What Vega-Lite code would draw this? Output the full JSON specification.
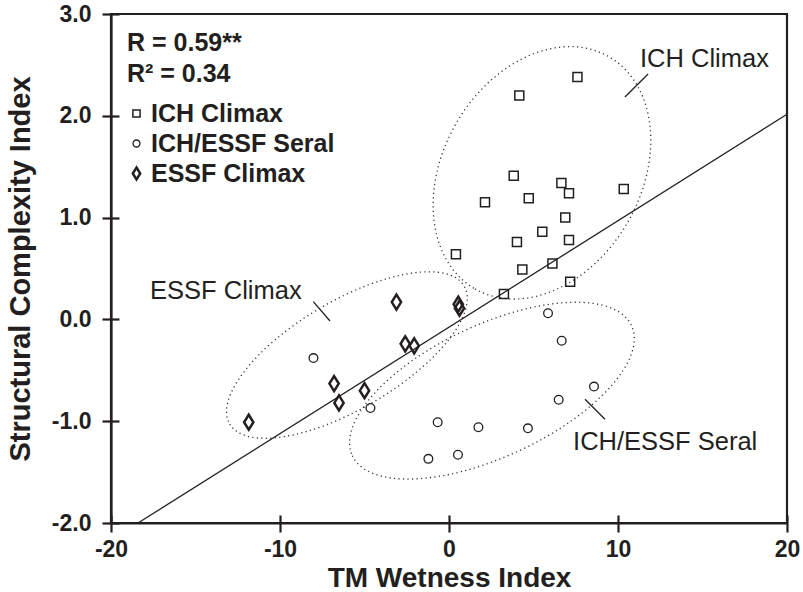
{
  "$schema": "https://vega.github.io/schema/vega-lite/v6.json",
  "width": 676,
  "height": 509,
  "autosize": "none",
  "padding": {"left": 111, "top": 14, "right": 16, "bottom": 69},
  "config": {
    "font": "Liberation Sans",
    "view": {"stroke": "#231f20", "strokeWidth": 2.2}
  },
  "datasets": {
    "points": [
      {"group": "ICH Climax", "twi": 7.6, "sci": 2.38},
      {"group": "ICH Climax", "twi": 4.16, "sci": 2.2},
      {"group": "ICH Climax", "twi": 3.83, "sci": 1.41},
      {"group": "ICH Climax", "twi": 6.65, "sci": 1.34},
      {"group": "ICH Climax", "twi": 7.1, "sci": 1.24},
      {"group": "ICH Climax", "twi": 4.72, "sci": 1.19},
      {"group": "ICH Climax", "twi": 2.13, "sci": 1.15},
      {"group": "ICH Climax", "twi": 10.34, "sci": 1.28},
      {"group": "ICH Climax", "twi": 6.88, "sci": 1.0},
      {"group": "ICH Climax", "twi": 5.52, "sci": 0.86},
      {"group": "ICH Climax", "twi": 7.1, "sci": 0.78},
      {"group": "ICH Climax", "twi": 4.02, "sci": 0.76},
      {"group": "ICH Climax", "twi": 0.41, "sci": 0.64},
      {"group": "ICH Climax", "twi": 4.34, "sci": 0.49},
      {"group": "ICH Climax", "twi": 6.12, "sci": 0.55},
      {"group": "ICH Climax", "twi": 7.17, "sci": 0.37},
      {"group": "ICH Climax", "twi": 3.25, "sci": 0.25},
      {"group": "ICH/ESSF Seral", "twi": 5.86, "sci": 0.06},
      {"group": "ICH/ESSF Seral", "twi": 6.67, "sci": -0.21},
      {"group": "ICH/ESSF Seral", "twi": 8.58, "sci": -0.66},
      {"group": "ICH/ESSF Seral", "twi": 6.49, "sci": -0.79},
      {"group": "ICH/ESSF Seral", "twi": -4.65, "sci": -0.87},
      {"group": "ICH/ESSF Seral", "twi": -0.67, "sci": -1.01},
      {"group": "ICH/ESSF Seral", "twi": 1.74, "sci": -1.06},
      {"group": "ICH/ESSF Seral", "twi": 4.67, "sci": -1.07},
      {"group": "ICH/ESSF Seral", "twi": -1.22, "sci": -1.37},
      {"group": "ICH/ESSF Seral", "twi": 0.53, "sci": -1.33},
      {"group": "ICH/ESSF Seral", "twi": -8.02, "sci": -0.38},
      {"group": "ESSF Climax", "twi": -3.11, "sci": 0.17},
      {"group": "ESSF Climax", "twi": 0.55, "sci": 0.15},
      {"group": "ESSF Climax", "twi": 0.62, "sci": 0.11},
      {"group": "ESSF Climax", "twi": -2.59, "sci": -0.24},
      {"group": "ESSF Climax", "twi": -2.06, "sci": -0.26},
      {"group": "ESSF Climax", "twi": -6.8, "sci": -0.63},
      {"group": "ESSF Climax", "twi": -5.0, "sci": -0.7},
      {"group": "ESSF Climax", "twi": -6.51, "sci": -0.82},
      {"group": "ESSF Climax", "twi": -11.85, "sci": -1.01}
    ],
    "ellipses": [
      {"group": "ICH Climax", "cx": 5.5, "cy": 1.44},
      {"group": "ESSF Climax", "cx": -6.04, "cy": -0.35},
      {"group": "ICH/ESSF Seral", "cx": 2.54, "cy": -0.7}
    ],
    "fit": [
      {"twi": -18.4, "sci": -2.0},
      {"twi": 20, "sci": 2.015}
    ],
    "labels": [
      {"label": "ICH Climax", "x": 11.3, "y": 2.48},
      {"label": "ESSF Climax", "x": -17.69, "y": 0.2},
      {"label": "ICH/ESSF Seral", "x": 7.34, "y": -1.283}
    ],
    "leaders": [
      {"x": 10.41, "y": 2.185, "x2": 11.78, "y2": 2.41},
      {"x": -8.03, "y": 0.174, "x2": -7.04, "y2": -0.016},
      {"x": 8.05, "y": -0.785, "x2": 9.23, "y2": -0.981}
    ]
  },
  "layer": [
    {
      "data": {"name": "ellipses"},
      "transform": [{"filter": "datum.group === 'ICH Climax'"}],
      "mark": {"type": "point", "shape": "M-134,0A134,99 0 1,0 134,0A134,99 0 1,0 -134,0Z", "size": 4, "angle": -60, "filled": false, "stroke": "#333333", "strokeWidth": 1.3, "strokeDash": [1.2, 3.3], "opacity": 1},
      "encoding": {
        "x": {"field": "cx", "type": "quantitative", "scale": {"domain": [-20, 20], "nice": false, "zero": false}, "axis": null},
        "y": {"field": "cy", "type": "quantitative", "scale": {"domain": [-2, 3], "nice": false, "zero": false}, "axis": null}
      }
    },
    {
      "data": {"name": "ellipses"},
      "transform": [{"filter": "datum.group === 'ESSF Climax'"}],
      "mark": {"type": "point", "shape": "M-136,0A136,54 0 1,0 136,0A136,54 0 1,0 -136,0Z", "size": 4, "angle": -30.5, "filled": false, "stroke": "#333333", "strokeWidth": 1.3, "strokeDash": [1.2, 3.3], "opacity": 1},
      "encoding": {
        "x": {"field": "cx", "type": "quantitative", "axis": null},
        "y": {"field": "cy", "type": "quantitative", "axis": null}
      }
    },
    {
      "data": {"name": "ellipses"},
      "transform": [{"filter": "datum.group === 'ICH/ESSF Seral'"}],
      "mark": {"type": "point", "shape": "M-154,0A154,66 0 1,0 154,0A154,66 0 1,0 -154,0Z", "size": 4, "angle": -25, "filled": false, "stroke": "#333333", "strokeWidth": 1.3, "strokeDash": [1.2, 3.3], "opacity": 1},
      "encoding": {
        "x": {"field": "cx", "type": "quantitative", "axis": null},
        "y": {"field": "cy", "type": "quantitative", "axis": null}
      }
    },
    {
      "data": {"name": "fit"},
      "mark": {"type": "line", "color": "#231f20", "strokeWidth": 1.3},
      "encoding": {
        "x": {"field": "twi", "type": "quantitative", "axis": {"orient": "bottom", "values": [-20, -10, 0, 10, 20], "tickSize": -8, "tickWidth": 2.2, "tickColor": "#231f20", "labels": false, "domain": false, "grid": false, "title": null}},
        "y": {"field": "sci", "type": "quantitative", "axis": {"orient": "left", "values": [-2, -1, 0, 1, 2, 3], "tickSize": -8, "tickWidth": 2.2, "tickColor": "#231f20", "labels": false, "domain": false, "grid": false, "title": null}}
      }
    },
    {
      "data": {"name": "leaders"},
      "mark": {"type": "rule", "color": "#231f20", "strokeWidth": 1.3},
      "encoding": {
        "x": {"field": "x", "type": "quantitative", "axis": null},
        "y": {"field": "y", "type": "quantitative", "axis": null},
        "x2": {"field": "x2"},
        "y2": {"field": "y2"}
      }
    },
    {
      "data": {"name": "labels"},
      "mark": {"type": "text", "align": "left", "baseline": "alphabetic", "fontSize": 25.5, "font": "Liberation Sans", "color": "#231f20"},
      "encoding": {
        "x": {"field": "x", "type": "quantitative", "axis": null},
        "y": {"field": "y", "type": "quantitative", "axis": null},
        "text": {"field": "label"}
      }
    },
    {
      "data": {"name": "points"},
      "mark": {"type": "point", "filled": false, "size": 225, "opacity": 1, "color": "#231f20"},
      "encoding": {
        "x": {
          "field": "twi", "type": "quantitative",
          "axis": {
            "orient": "bottom",
            "values": [-20, -10, 0, 10, 20],
            "labelExpr": "replace(format(datum.value, 'd'), '\u2212', '-')",
            "labelFlush": false,
            "title": "TM Wetness Index",
            "titleFontSize": 28, "titleFontWeight": "bold", "titleColor": "#231f20",
            "titleBaseline": "alphabetic", "titleY": 63,
            "labelFontSize": 23, "labelFontWeight": "bold", "labelColor": "#231f20", "labelPadding": 6,
            "tickSize": 9, "tickWidth": 2.2, "tickColor": "#231f20",
            "domainWidth": 2.2, "domainColor": "#231f20", "grid": false
          }
        },
        "y": {
          "field": "sci", "type": "quantitative",
          "axis": {
            "orient": "left",
            "values": [-2, -1, 0, 1, 2, 3],
            "labelExpr": "replace(format(datum.value, '.1f'), '\u2212', '-')",
            "labelFlush": false,
            "title": "Structural Complexity Index",
            "titleFontSize": 29, "titleFontWeight": "bold", "titleColor": "#231f20",
            "titleBaseline": "alphabetic", "titleX": -82,
            "labelFontSize": 23, "labelFontWeight": "bold", "labelColor": "#231f20", "labelPadding": 11,
            "tickSize": 9, "tickWidth": 2.2, "tickColor": "#231f20",
            "domainWidth": 2.2, "domainColor": "#231f20", "grid": false
          }
        },
        "shape": {
          "field": "group", "type": "nominal",
          "scale": {
            "domain": ["ICH Climax", "ICH/ESSF Seral", "ESSF Climax"],
            "range": ["M-0.6,-0.6H0.6V0.6H-0.6Z", "M-0.58,0A0.58,0.58 0 1,0 0.58,0A0.58,0.58 0 1,0 -0.58,0Z", "M0,-1L0.62,0L0,1L-0.62,0Z"]
          },
          "legend": {
            "orient": "none", "legendX": 16, "legendY": 17,
            "title": ["R = 0.59**", "R\u00b2 = 0.34"],
            "titleFontSize": 25, "titleFontWeight": "bold", "titleColor": "#231f20", "titleLineHeight": 31, "titlePadding": 14,
            "labelFontSize": 25, "labelFontWeight": "bold", "labelColor": "#231f20", "labelLimit": 400,
            "symbolSize": 144, "symbolStrokeColor": "#231f20", "symbolFillColor": "transparent", "symbolStrokeWidth": 1.5,
            "symbolOffset": -3, "labelOffset": 2, "rowPadding": 4, "padding": 0
          }
        },
        "strokeWidth": {
          "field": "group", "type": "nominal",
          "scale": {"type": "ordinal", "domain": ["ICH Climax", "ICH/ESSF Seral", "ESSF Climax"], "range": [1.5, 1.3, 2.5]}
        }
      }
    }
  ],
  "resolve": {"axis": {"x": "independent", "y": "independent"}}
}
